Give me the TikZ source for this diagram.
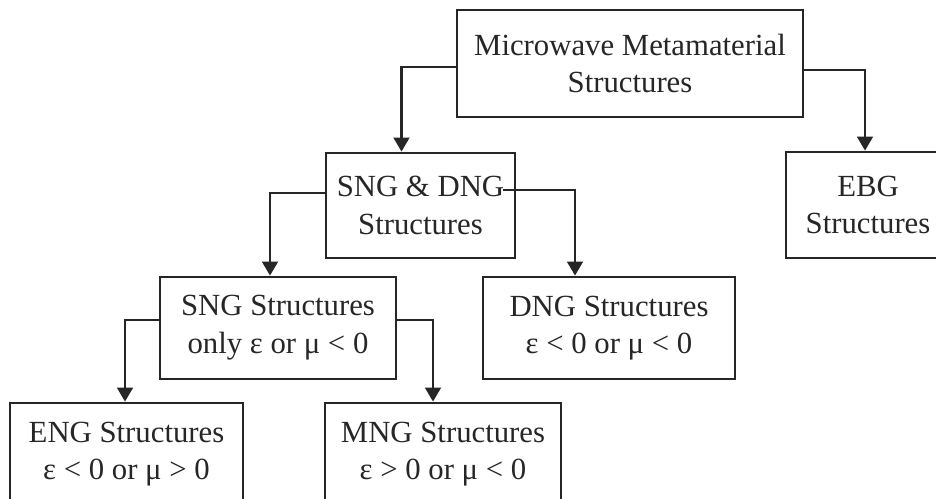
\documentclass[tikz,border=0pt]{standalone}
\usepackage{fontspec}
\setmainfont{Liberation Serif}
\usepackage{tikz}
\usetikzlibrary{arrows.meta}
\tikzset{
box/.style={draw=black!85, line width=1.6pt, align=center, inner sep=0pt,
  font=\fontsize{17.5}{21.5}\selectfont, text=black!85},
link/.style={draw=black!85, line width=1.4pt, -{Triangle[width=9pt,length=8pt]}}}

\begin{document}
\begin{tikzpicture}[x=0.02cm, y=-0.02cm]
    \useasboundingbox (0,0) rectangle (936,499);
    \clip (0,0) rectangle (936,499);

                \node[box, minimum width=346*0.02cm, minimum height=107*0.02cm] (mm) at (630,63.5) {Microwave Metamaterial\\Structures};
                \node[box, minimum width=189*0.02cm, minimum height=105*0.02cm] (sngdng) at (420.5,205.5) {SNG \& DNG\\Structures};
                \node[box, minimum width=164*0.02cm, minimum height=106*0.02cm] (ebg) at (868,205) {EBG\\Structures};
                \node[box, minimum width=236*0.02cm, minimum height=102*0.02cm] (sng) at (278,328) {SNG Structures\\only ε or μ < 0};
                \node[box, minimum width=252*0.02cm, minimum height=102*0.02cm] (dng) at (609,328) {DNG Structures\\ε < 0 or μ < 0};
                \node[box, minimum width=233*0.02cm, minimum height=102*0.02cm] (eng) at (126.5,454) {ENG Structures\\ε < 0 or μ > 0};
                \node[box, minimum width=236*0.02cm, minimum height=102*0.02cm] (mng) at (443,454) {MNG Structures\\ε > 0 or μ < 0};

                \draw[link] ([yshift=-0.07cm]mm.west) -| ([xshift=-0.38cm]sngdng.north);
                \draw[link] ([yshift=-0.13cm]mm.east) -| ([xshift=-0.06cm]ebg.north);
                \draw[link] ([yshift=0.25cm]sngdng.west) -| ([xshift=-0.16cm]sng.north);
                \draw[link] ([xshift=-0.26cm, yshift=0.31cm]sngdng.east) -| ([xshift=-0.68cm]dng.north);
                \draw[link] ([yshift=0.16cm]sng.west) -| ([xshift=-0.03cm]eng.north);
                \draw[link] ([yshift=0.16cm]sng.east) -| ([xshift=-0.2cm]mng.north);

\end{tikzpicture}
\end{document}
